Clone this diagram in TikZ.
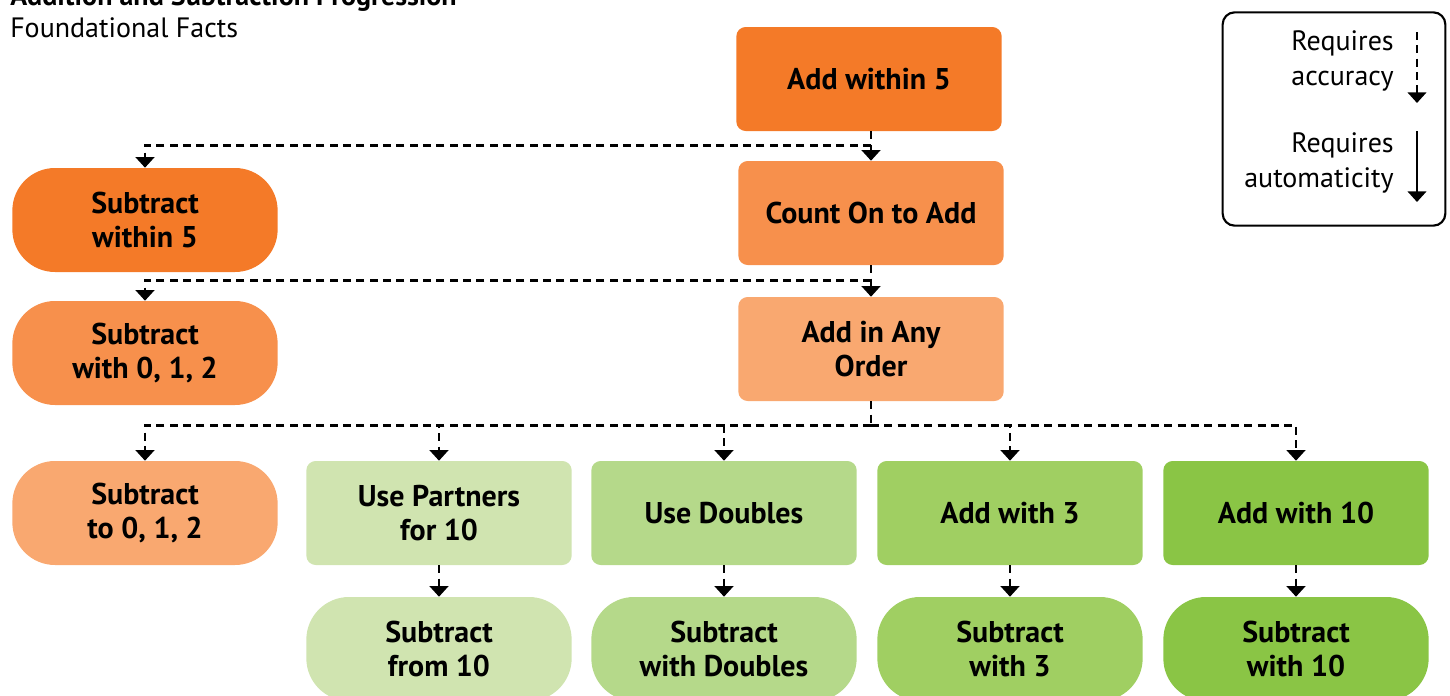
\documentclass[tikz,border=0pt]{standalone}
\usepackage{fontspec}
\setmainfont{PT Sans}
\usetikzlibrary{arrows.meta}

\definecolor{orangeA}{HTML}{F47A28}
\definecolor{orangeB}{HTML}{F7904C}
\definecolor{orangeC}{HTML}{F9A870}
\definecolor{greenA}{HTML}{D0E4B0}
\definecolor{greenB}{HTML}{B5D98A}
\definecolor{greenC}{HTML}{A0CF62}
\definecolor{greenD}{HTML}{8AC545}

\begin{document}
\begin{tikzpicture}[x=0.75pt, y=-0.75pt,
    fact/.style={rounded corners=7pt, minimum width=199pt, minimum height=78pt,
        inner sep=0pt, align=center, font=\fontsize{22.5}{26}\selectfont\bfseries},
    pill/.style={fact, rounded corners=32pt},
    dashline/.style={line width=2.2pt, dash pattern=on 6pt off 4pt},
    req/.style={dashline, -{Triangle[width=14pt,length=8pt]}},
    auto/.style={line width=1.6pt, -{Triangle[width=14pt,length=8pt]}},
    plain/.style={font=\fontsize{21}{26}\selectfont}]
    \useasboundingbox (0,0) rectangle (1450,696);

    % headings
    \node[plain, anchor=base west, inner sep=0pt, font=\fontsize{21}{26}\selectfont\bfseries] (title) at (10,6) {Addition and Subtraction Progression};
    \node[plain, anchor=base west, inner sep=0pt] (subtitle) at (10,37) {Foundational Facts};

    % addition trunk
    \node[fact, fill=orangeA] (add5) at (869,79) {Add within 5};
    \node[fact, fill=orangeB] (count) at (871,213) {Count On to Add};
    \node[fact, fill=orangeC] (anyorder) at (871,349) {Add in Any\\Order};

    % subtraction column
    \node[pill, fill=orangeA] (sub5) at (145,220) {Subtract\\within 5};
    \node[pill, fill=orangeB] (sub012) at (145,353) {Subtract\\with 0, 1, 2};
    \node[pill, fill=orangeC] (sub0) at (145,513) {Subtract\\to 0, 1, 2};

    % strategies row
    \node[fact, fill=greenA] (partners) at (439,513) {Use Partners\\for 10};
    \node[fact, fill=greenB] (doubles) at (724,513) {Use Doubles};
    \node[fact, fill=greenC] (add3) at (1010,513) {Add with 3};
    \node[fact, fill=greenD] (add10) at (1296,513) {Add with 10};

    \node[pill, fill=greenA] (subpart) at (439,649) {Subtract\\from 10};
    \node[pill, fill=greenB] (subdbl) at (724,649) {Subtract\\with Doubles};
    \node[pill, fill=greenC] (sub3) at (1010,649) {Subtract\\with 3};
    \node[pill, fill=greenD] (sub10) at (1296,649) {Subtract\\with 10};

    % connectors
    \draw[dashline] (add5.south -| count.north) -- ++(0,14) coordinate (j1);
    \draw[req] (j1) -- (count.north);
    \draw[req] (j1) -| (sub5.north);

    \draw[dashline] (count.south) -- ++(0,15) coordinate (j2);
    \draw[req] (j2) -- (anyorder.north);
    \draw[req] (j2) -| (sub012.north);

    \draw[dashline] (anyorder.south) -- ++(0,24) coordinate (j3);
    \foreach \n in {sub0,partners,doubles,add3,add10}{
        \draw[req] (j3) -| (\n.north);
    }
    \draw[req] (partners) -- (subpart);
    \draw[req] (doubles) -- (subdbl);
    \draw[req] (add3) -- (sub3);
    \draw[req] (add10) -- (sub10);

    % legend
    \node[draw, line width=1.6pt, rounded corners=9pt, minimum width=167pt, minimum height=160pt] (legend) at (1334,119) {};
    \node[plain, anchor=east, align=right, inner sep=0pt] (acc) at (1394,61) {Requires\\accuracy};
    \node[plain, anchor=east, align=right, inner sep=0pt] (autom) at (1394,163) {Requires\\automaticity};
    \coordinate (acctop) at (1417,32);
    \coordinate (accbot) at (1417,103);
    \coordinate (auttop) at (1417,131);
    \coordinate (autbot) at (1417,202);
    \draw[req, line width=1.6pt] (acctop) -- (accbot);
    \draw[auto] (auttop) -- (autbot);
\end{tikzpicture}
\end{document}
